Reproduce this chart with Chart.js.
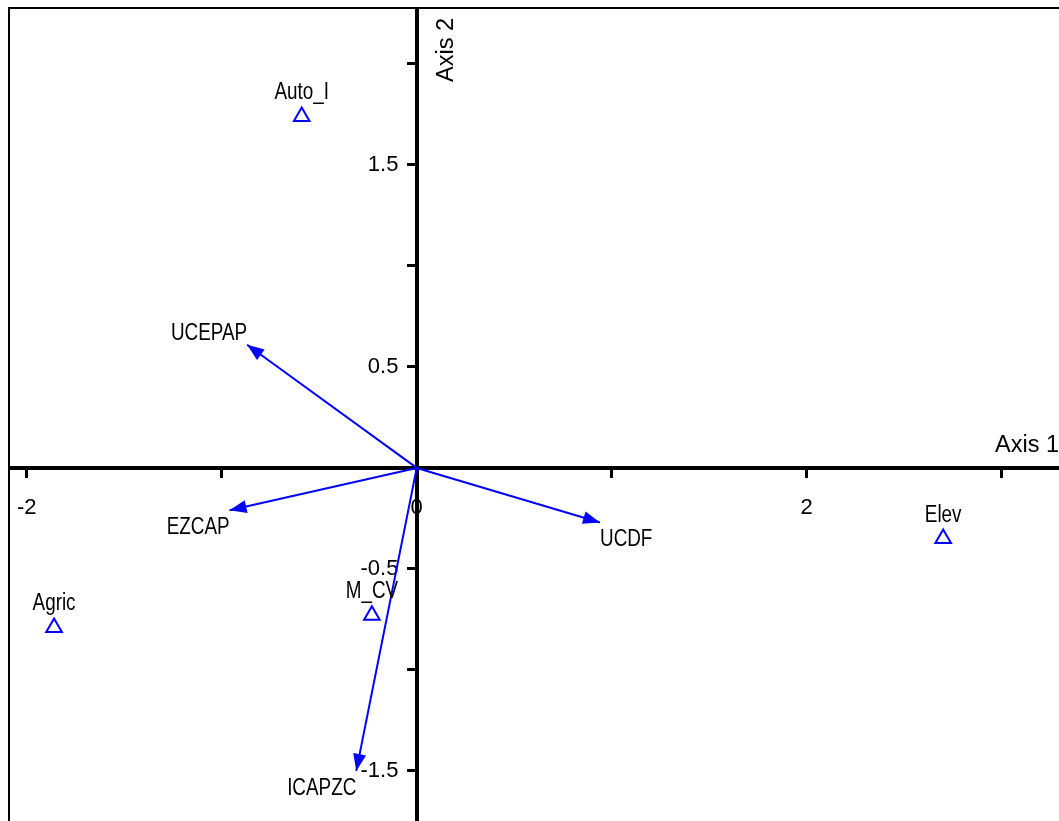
<!DOCTYPE html>
<html>
<head>
<meta charset="utf-8">
<script src="https://cdn.jsdelivr.net/npm/chart.js@4/dist/chart.umd.min.js"></script>
<style>
  html, body { margin: 0; padding: 0; background: #fff; overflow: hidden; }
  #frame {
    position: absolute; left: 8px; top: 7px; width: 1051px; height: 814px;
    border-left: 2px solid #000; border-top: 2px solid #000; box-sizing: border-box;
  }
  #plot { display: block; }
</style>
</head>
<body>
<div id="frame"><canvas id="plot" width="1049" height="812"></canvas></div>
<script>
// sites (hollow triangles)
const siteNames = ['Auto_I', 'Elev', 'Agric', 'M_CV'];
const siteX = [-0.59, 2.70, -1.86, -0.23];
const siteY = [1.74, -0.35, -0.79, -0.73];

// variable vectors (arrows from the origin)
const arrowNames = ['UCEPAP', 'EZCAP', 'UCDF', 'ICAPZC'];
const arrowX = [-0.87, -0.96, 0.94, -0.31];
const arrowY = [0.61, -0.21, -0.27, -1.50];

// only these ticks get a label
const xTickLabels = ['-2', '0', '2'];
const yTickLabels = ['-1.5', '-0.5', '0.5', '1.5'];

const blue = '#0000ff';
const sans = '"Liberation Sans", Arial, sans-serif';
const tickFont = { family: sans, size: 22 };

// Arial Narrow look: Liberation Sans squeezed horizontally
function narrowText(ctx, text, x, y, align) {
    ctx.save();
    ctx.translate(x, y);
    ctx.scale(0.82, 1);
    ctx.font = '23px ' + sans;
    ctx.textAlign = align;
    ctx.textBaseline = 'alphabetic';
    ctx.fillStyle = '#000';
    ctx.fillText(text, 0, 0);
    ctx.restore();
}

const datasets = [{
    type: 'scatter',
    data: siteX.map((x, i) => ({ x: x, y: siteY[i] })),
    pointStyle: 'triangle',
    pointRadius: 9,
    pointBorderWidth: 2,
    pointBorderColor: blue,
    pointBackgroundColor: 'rgba(0,0,0,0)'
}];
arrowNames.forEach((name, i) => {
    datasets.push({
        type: 'line',
        data: [{ x: 0, y: 0 }, { x: arrowX[i], y: arrowY[i] }],
        borderColor: blue,
        borderWidth: 2,
        pointRadius: 0,
        fill: false
    });
});

const overlay = {
    id: 'overlay',
    afterDatasetsDraw(chart) {
        const ctx = chart.ctx;
        const area = chart.chartArea;
        const ox = chart.scales.x.getPixelForValue(0);
        const oy = chart.scales.y.getPixelForValue(0);

        // arrowheads + vector labels
        arrowNames.forEach((name, i) => {
            const pts = chart.getDatasetMeta(i + 1).data;
            const tip = pts[1];
            const a = Math.atan2(tip.y - pts[0].y, tip.x - pts[0].x);
            const len = 17, half = 6.5;
            const bx = tip.x - len * Math.cos(a), by = tip.y - len * Math.sin(a);
            ctx.save();
            ctx.fillStyle = blue;
            ctx.beginPath();
            ctx.moveTo(tip.x, tip.y);
            ctx.lineTo(bx + half * Math.sin(a), by - half * Math.cos(a));
            ctx.lineTo(bx - half * Math.sin(a), by + half * Math.cos(a));
            ctx.closePath();
            ctx.fill();
            ctx.restore();

            narrowText(ctx, name, tip.x, arrowY[i] > 0 ? tip.y - 5 : tip.y + 24,
                arrowX[i] < 0 ? 'right' : 'left');
        });

        // site labels
        const sites = chart.getDatasetMeta(0).data;
        siteNames.forEach((name, i) => {
            narrowText(ctx, name, sites[i].x, sites[i].y - 17, 'center');
        });

        // axis titles
        ctx.save();
        ctx.fillStyle = '#000';
        ctx.font = '23.5px ' + sans;
        ctx.textAlign = 'right';
        ctx.textBaseline = 'alphabetic';
        ctx.fillText('Axis 1', area.right, oy - 16);
        ctx.translate(ox + 30, area.top + 41);
        ctx.rotate(-Math.PI / 2);
        ctx.textAlign = 'center';
        ctx.textBaseline = 'middle';
        ctx.fillText('Axis 2', 0, 0);
        ctx.restore();
    }
};

// axes sit inside the plot: keep them from shrinking the chart area
function noPadding(scale) {
    scale.paddingTop = 0;
    scale.paddingBottom = 0;
    scale.paddingLeft = 0;
    scale.paddingRight = 0;
}

new Chart(document.getElementById('plot'), {
    type: 'scatter',
    data: { datasets: datasets },
    options: {
        responsive: false,
        animation: false,
        layout: { padding: 0, autoPadding: false },
        plugins: { legend: { display: false }, tooltip: { enabled: false } },
        scales: {
            x: {
                type: 'linear',
                min: -2.086,
                max: 3.294,
                position: { y: 0 },
                afterFit: noPadding,
                border: { display: true, color: '#000', width: 4 },
                grid: { drawOnChartArea: false, drawTicks: true, tickLength: 8, tickWidth: 3, tickColor: '#000' },
                ticks: {
                    stepSize: 1,
                    includeBounds: false,
                    autoSkip: false,
                    maxRotation: 0,
                    padding: 19,
                    color: '#000',
                    font: tickFont,
                    callback: v => xTickLabels.includes(String(v)) ? String(v) : ''
                }
            },
            y: {
                type: 'linear',
                min: -1.748,
                max: 2.272,
                position: { x: 0 },
                afterFit: noPadding,
                border: { display: true, color: '#000', width: 4 },
                grid: { drawOnChartArea: false, drawTicks: true, tickLength: 8, tickWidth: 3, tickColor: '#000' },
                ticks: {
                    stepSize: 0.5,
                    includeBounds: false,
                    autoSkip: false,
                    color: '#000',
                    font: tickFont,
                    // labels are right-aligned on the axis line; trailing spaces keep them clear of the ticks
                    callback: v => yTickLabels.includes(String(v)) ? String(v) + '   ' : ''
                }
            }
        }
    },
    plugins: [overlay]
});
</script>
</body>
</html>
